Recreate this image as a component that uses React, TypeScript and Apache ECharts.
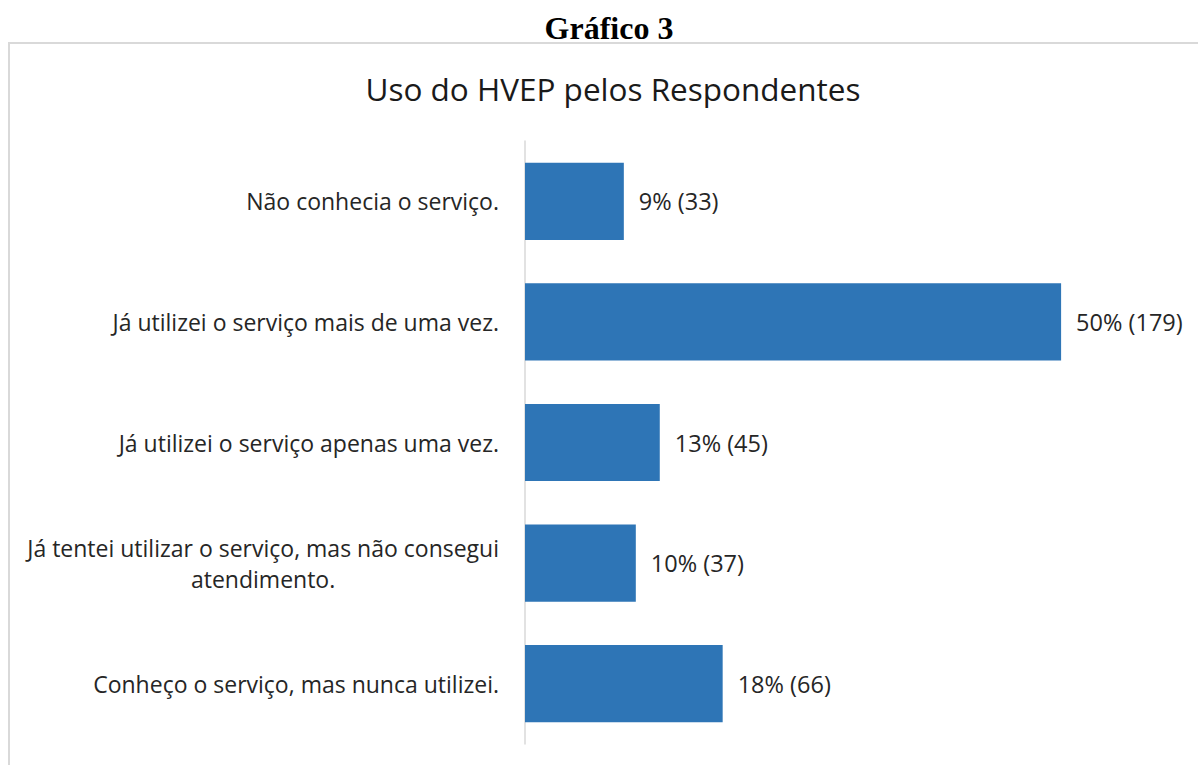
import React, { useEffect, useRef } from "react";
import * as echarts from "echarts";

const categories = [
  "Não conhecia o serviço.",
  "Já utilizei o serviço mais de uma vez.",
  "Já utilizei o serviço apenas uma vez.",
  "Já tentei utilizar o serviço, mas não consegui\natendimento.",
  "Conheço o serviço, mas nunca utilizei.",
];
const counts = [33, 179, 45, 37, 66];
const percents = ["9%", "50%", "13%", "10%", "18%"];

const FONT = "'Open Sans', Lato, sans-serif";
const TEXT = "#262626";

export default function App() {
  const ref = useRef<HTMLDivElement>(null);
  useEffect(() => {
    const chart = echarts.init(ref.current!, null, { renderer: "svg" });
    chart.setOption({
      animation: false,
      backgroundColor: "#ffffff",
      title: {
        text: "Uso do HVEP pelos Respondentes",
        left: 608,
        textAlign: "center",
        top: 67,
        textStyle: { fontFamily: FONT, fontSize: 31.5, fontWeight: "normal", color: "#1a1a1a" },
      },
      graphic: [
        {
          type: "rect",
          shape: { x: 9, y: 43, width: 1250, height: 760 },
          style: { fill: "none", stroke: "#d9d9d9", lineWidth: 2 },
          z: -1,
        },
        {
          type: "text",
          x: 609,
          y: 28,
          style: {
            text: "Gráfico 3",
            font: "bold 32px 'Liberation Serif', 'Times New Roman', serif",
            fill: "#000000",
            align: "center",
            verticalAlign: "middle",
          },
        },
      ],
      grid: { left: 525, top: 141, width: 599, height: 603, containLabel: false },
      xAxis: {
        type: "value",
        min: 0,
        max: 200,
        show: false,
      },
      yAxis: {
        type: "category",
        inverse: true,
        data: categories,
        axisLine: { show: true, lineStyle: { color: "#d9d9d9", width: 1.5 } },
        axisTick: { show: false },
        axisLabel: {
          margin: 26,
          fontFamily: FONT,
          fontSize: 23,
          color: TEXT,
          lineHeight: 31,
          formatter: (v: string) =>
            v.indexOf("\n") >= 0
              ? v.split("\n").map((l) => "{c|" + l + "}").join("\n")
              : v,
          rich: {
            c: { align: "center", fontFamily: FONT, fontSize: 23, color: TEXT, lineHeight: 31 },
          },
        },
      },
      series: [
        {
          type: "bar",
          data: counts,
          barCategoryGap: "36%",
          itemStyle: { color: "#2e75b6" },
          label: {
            show: true,
            position: "right",
            distance: 15,
            fontFamily: FONT,
            fontSize: 23.5,
            color: TEXT,
            formatter: (p: any) => percents[p.dataIndex] + " (" + counts[p.dataIndex] + ")",
          },
        },
      ],
    });
    return () => chart.dispose();
  }, []);
  return (
    <div
      ref={ref}
      style={{ position: "fixed", left: 0, top: 0, width: 1198, height: 765 }}
    />
  );
}
